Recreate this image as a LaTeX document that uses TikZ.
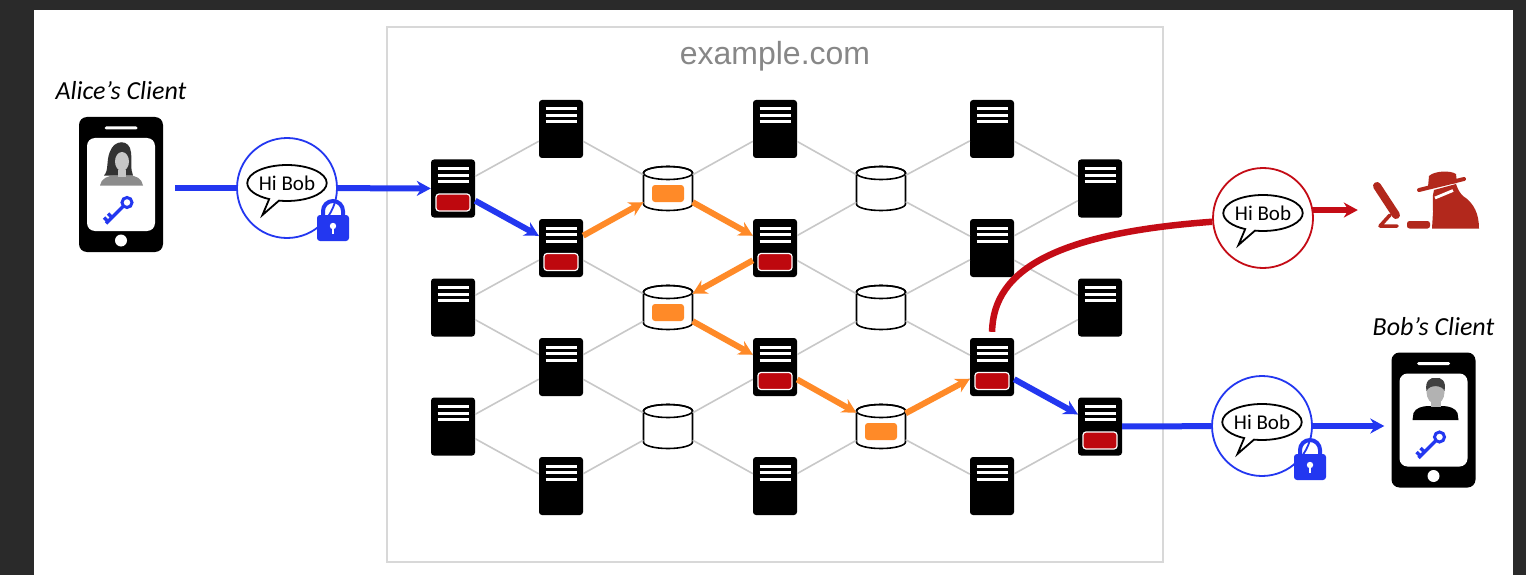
\documentclass[tikz,border=0pt]{standalone}
\usepackage{fontspec}
\setmainfont{Carlito}
\newfontfamily\arialfont{Liberation Sans}
\usetikzlibrary{arrows.meta, positioning, shapes.geometric, shapes.callouts}

\definecolor{netblue}{RGB}{35,55,240}
\definecolor{netorange}{RGB}{255,138,40}
\definecolor{tagred}{RGB}{190,8,14}
\definecolor{evilred}{RGB}{196,12,22}
\definecolor{hackred}{RGB}{178,40,28}
\definecolor{linkgray}{RGB}{200,200,200}
\definecolor{boxgray}{RGB}{216,216,216}
\definecolor{titlegray}{RGB}{135,135,135}
\definecolor{backdrop}{RGB}{42,42,42}

\begin{document}
\begin{tikzpicture}[x=1pt, y=-1pt, >={Stealth[length=14pt,width=15pt]},
  server/.style={rectangle, fill=black, rounded corners=3pt, minimum width=44pt, minimum height=58pt, inner sep=0pt,
    path picture={\foreach \d in {9,15.5,22}
      \draw[white, line width=3pt] ([xshift=-15.5pt,yshift=-\d pt]path picture bounding box.north) -- ([xshift=15.5pt,yshift=-\d pt]path picture bounding box.north);}},
  db/.style={rectangle, minimum width=49pt, minimum height=44pt, inner sep=0pt},
  dbcan/.pic={
    \filldraw[fill=white, line width=1.6pt] (-24.5,-15.5) -- (-24.5,15.5) arc[start angle=180, end angle=0, x radius=24.5, y radius=6.5]
      -- (24.5,-15.5) arc[start angle=0, end angle=-180, x radius=24.5, y radius=6.5] -- cycle;
    \draw[line width=1.6pt] (0,-15.5) ellipse[x radius=24.5, y radius=6.5];},
  redtag/.style={draw=white, line width=1.2pt, fill=tagred, rounded corners=3pt, minimum width=34pt, minimum height=17pt, inner sep=0pt},
  orangetag/.style={fill=netorange, rounded corners=3pt, minimum width=32pt, minimum height=17pt, inner sep=0pt},
  link/.style={draw=linkgray, line width=1.6pt},
  hop/.style={line width=6pt, #1, ->},
  msg/.style={circle, draw=#1, line width=1.8pt, fill=white, minimum size=100pt, inner sep=0pt},
  bubble/.style={ellipse callout, draw, line width=1.8pt, fill=white, minimum width=70pt, minimum height=36pt, inner sep=0pt,
    callout relative pointer={(-11.5,15)}, font=\fontsize{21}{25}\selectfont},
  phone/.style={rectangle, fill=black, rounded corners=8pt, minimum width=84pt, minimum height=135pt, inner sep=0pt,
    path picture={
      \fill[white] ([xshift=-34pt,yshift=46.5pt]path picture bounding box.center) rectangle ([xshift=34pt,yshift=-46.5pt]path picture bounding box.center);
      \fill[white, rounded corners=1.5pt] ([xshift=-16.5pt,yshift=58pt]path picture bounding box.center) rectangle ([xshift=16.5pt,yshift=55pt]path picture bounding box.center);
      \fill[white] ([yshift=-56pt]path picture bounding box.center) circle (6pt);}},
  client/.style={font=\fontsize{26}{30}\selectfont\itshape, inner sep=0pt},
  padlock/.pic={
    \draw[netblue, line width=4pt] (-10,0) -- (-10,-17) arc[start angle=180, end angle=360, radius=10] -- (10,0);
    \fill[netblue, rounded corners=3pt] (-16,-13) rectangle (16,13);
    \fill[white] (0,-2) circle (3.2);
    \fill[white] (-1.3,-1) rectangle (1.3,6);},
  keyicon/.pic={
    \draw[netblue, line width=3pt] (0,0) circle (5);
    \draw[netblue, line width=3.5pt] (-3.5,3.5) -- (-21,21) (-15,15) -- (-19,11) (-19,19) -- (-23,15);},
  woman/.pic={
    \fill[black!80] (-17,-9) .. controls (-12,-14) and (-15,-24) .. (-11,-33) .. controls (-7,-45) and (9,-46) .. (10,-32) .. controls (11,-24) and (9,-16) .. (12,-9) -- cycle;
    \fill[black!45] (-21,1) .. controls (-20,-6) and (-13,-9) .. (-6,-9) -- (8,-9) .. controls (15,-9) and (21,-6) .. (22,1) -- cycle;
    \fill[black!22] (-3,-15) rectangle (5,-8);
    \fill[black!22] (1,-23) ellipse (7 and 9.5);},
  man/.pic={
    \fill[black] (-21,0) -- (-20,-7) .. controls (-18,-12) and (-11,-14) .. (-5,-14) -- (9,-14) .. controls (15,-14) and (22,-12) .. (24,-7) -- (25,0) -- cycle;
    \fill[black!30] (-3,-19) rectangle (7,-13);
    \fill[black!30] (2,-28) ellipse (9 and 12);
    \fill[black!75] (-7,-29) .. controls (-9,-39) and (-3,-43) .. (2,-42) .. controls (8,-43) and (13,-39) .. (11,-29) .. controls (9,-35) and (-4,-36) .. (-7,-29) -- cycle;}
]
\useasboundingbox (0,0) rectangle (1526,575);
\fill[backdrop] (0,0) rectangle (1526,575);
\fill[white] (34,10) rectangle (1513,575);

\node[draw=boxgray, line width=2pt, minimum width=776pt, minimum height=535pt] (domain) at (775,294.5) {};
\node[font=\arialfont\fontsize{32}{36}\selectfont, text=titlegray] (site) at ([yshift=-30pt]domain.north) {example.com};

\foreach \c/\x in {1/453,7/1100} \foreach \r in {1,3,5}
  \node[server] (n\c\r) at (\x,{129+59.5*\r}) {};
\foreach \c/\x in {2/561,4/775,6/992} \foreach \r in {0,2,4,6}
  \node[server] (n\c\r) at (\x,{129+59.5*\r}) {};
\foreach \c/\x in {3/668,5/881} \foreach \r in {1,3,5} {
  \node[db] (n\c\r) at (\x,{129+59.5*\r}) {};
  \pic at (n\c\r) {dbcan};
}

\foreach \a/\b in {1/2,3/2,3/4,5/4,5/6,7/6} \foreach \r in {1,3,5} {
  \pgfmathtruncatemacro\u{\r-1}
  \pgfmathtruncatemacro\v{\r+1}
  \draw[link] (n\a\r) -- (n\b\u) (n\a\r) -- (n\b\v);
}

\foreach \n in {n11,n22,n42,n44,n64,n75}
  \node[redtag] (t\n) at ([yshift=-14pt]\n.center) {};
\foreach \n in {n31,n33,n55}
  \node[orangetag] (t\n) at ([yshift=-5pt]\n.center) {};

\draw[hop=netblue] (n11) -- (n22);
\foreach \a/\b in {n22/n31,n31/n42,n42/n33,n33/n44,n44/n55,n55/n64}
  \draw[hop=netorange] (\a) -- (\b);
\draw[hop=netblue] (n64) -- (n75);

\node[phone] (phoneA) at (121,184.5) {};
\node[client, above=17pt of phoneA] (labA) {Alice’s Client};
\pic at (phoneA) {woman};
\pic at ([xshift=6pt,yshift=-18pt]phoneA.center) {keyicon};
\node[msg=netblue] (msgA) at (287,188) {};
\node[bubble] (bubA) at (287,183) {Hi Bob};
\draw[line width=6pt, netblue, shorten <=12pt] (phoneA.east |- msgA) -- (msgA);
\draw[hop=netblue] (msgA) -- (n11);
\pic at (333,228) {padlock};

\node[phone] (phoneB) at (1433.5,420) {};
\node[client, above=16pt of phoneB] (labB) {Bob’s Client};
\pic at (phoneB) {man};
\pic at ([xshift=6pt,yshift=-17pt]phoneB.center) {keyicon};
\node[msg=netblue] (msgB) at (1262,426) {};
\node[bubble] (bubB) at (1262,422) {Hi Bob};
\draw[line width=6pt, netblue] (n75) -- (msgB);
\draw[hop=netblue, shorten >=7pt] (msgB) -- (phoneB.west |- msgB);
\pic at (1310,467) {padlock};

\node[inner sep=0pt, minimum width=118pt, minimum height=60pt] (eve) at (1417,200) {};
\node[msg=evilred] (msgE) at (1263,218) {};
\node[bubble] (bubE) at (1263,213) {Hi Bob};
\draw[line width=6.5pt, evilred, shorten <=6pt] (n64.north) .. controls (993,268) and (1060,233) .. (msgE);
\draw[hop=evilred] (msgE.9) -- (msgE.9 -| eve.west);
\begin{scope}[color=hackred]
  \draw[line width=8pt, line cap=round] (1377,186) -- (1396,215);
  \draw[line width=3.5pt, line cap=round, line join=round] (1390,215) -- (1380,226) -- (1397,226);
  \fill[rounded corners=2.5pt] (1407,221) rectangle (1430,228.5);
  \fill (1432,228.5) -- (1433,212) .. controls (1433,204) and (1432,196) .. (1434,190) -- (1456,184) .. controls (1458,190) and (1460,193) .. (1463,196) .. controls (1474,203) and (1479,214) .. (1479,228.5) -- cycle;
  \fill (1428,187) -- (1429,176) .. controls (1434,171) and (1450,170) .. (1456,174) -- (1457,183) -- cycle;
  \draw[line width=4pt, line cap=round] (1419,190) -- (1464,179);
  \draw[white, line width=2.8pt] (1435,198) -- (1453,190.5);
\end{scope}
\end{tikzpicture}
\end{document}
